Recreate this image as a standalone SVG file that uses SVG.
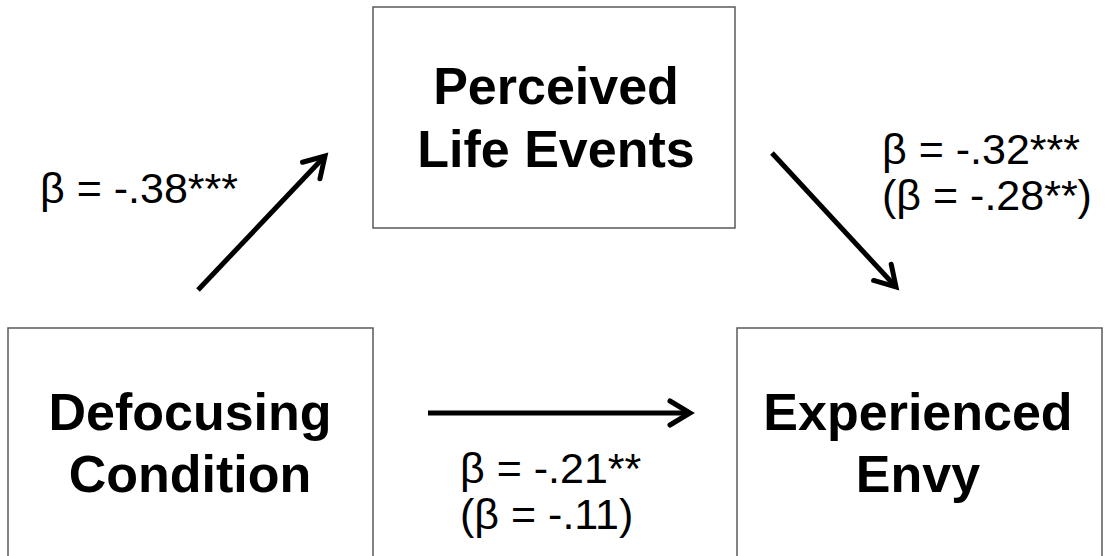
<svg xmlns="http://www.w3.org/2000/svg" width="1105" height="556" viewBox="0 0 1105 556">
  <defs>
    <marker id="head" markerUnits="userSpaceOnUse" markerWidth="40" markerHeight="40" viewBox="-30 -20 40 40" refX="0" refY="0" orient="auto">
      <path d="M-20,-12 L0,0 L-20,12" fill="none" stroke="#000" stroke-width="5" stroke-linejoin="miter" stroke-linecap="round"/>
    </marker>
  </defs>
  <style>
    .box { fill: #fff; stroke: #595959; stroke-width: 1.5; }
    .title { font-family: "Liberation Sans", Arial, sans-serif; font-weight: bold; font-size: 52px; fill: #000; text-anchor: middle; }
    .lbl { font-family: "Liberation Sans", Arial, sans-serif; font-size: 43px; fill: #000; }
    .arrow { stroke: #000; stroke-width: 5; fill: none; marker-end: url(#head); }
  </style>
  <rect width="1105" height="556" fill="#fff"/>
  <g id="node-perceived">
    <rect class="box" x="373" y="7" width="362" height="221"/>
    <text class="title" x="556" y="104">Perceived</text>
    <text class="title" x="556" y="167">Life Events</text>
  </g>
  <g id="node-defocusing">
    <rect class="box" x="8" y="328" width="365" height="240"/>
    <text class="title" x="190" y="430">Defocusing</text>
    <text class="title" x="190" y="492">Condition</text>
  </g>
  <g id="node-envy">
    <rect class="box" x="737" y="328" width="365" height="240"/>
    <text class="title" x="918" y="430">Experienced</text>
    <text class="title" x="918" y="492">Envy</text>
  </g>
  <g id="connectors">
    <line class="arrow" x1="198" y1="290" x2="325" y2="156"/>
    <line class="arrow" x1="772" y1="153" x2="896" y2="287"/>
    <line class="arrow" x1="428" y1="413" x2="690" y2="413"/>
  </g>
  <g id="labels">
    <text class="lbl" x="40" y="203">β = -.38***</text>
    <text class="lbl" x="882" y="164">β = -.32***</text>
    <text class="lbl" x="882" y="210">(β = -.28**)</text>
    <text class="lbl" x="460" y="483">β = -.21**</text>
    <text class="lbl" x="460" y="529">(β = -.11)</text>
  </g>
</svg>
